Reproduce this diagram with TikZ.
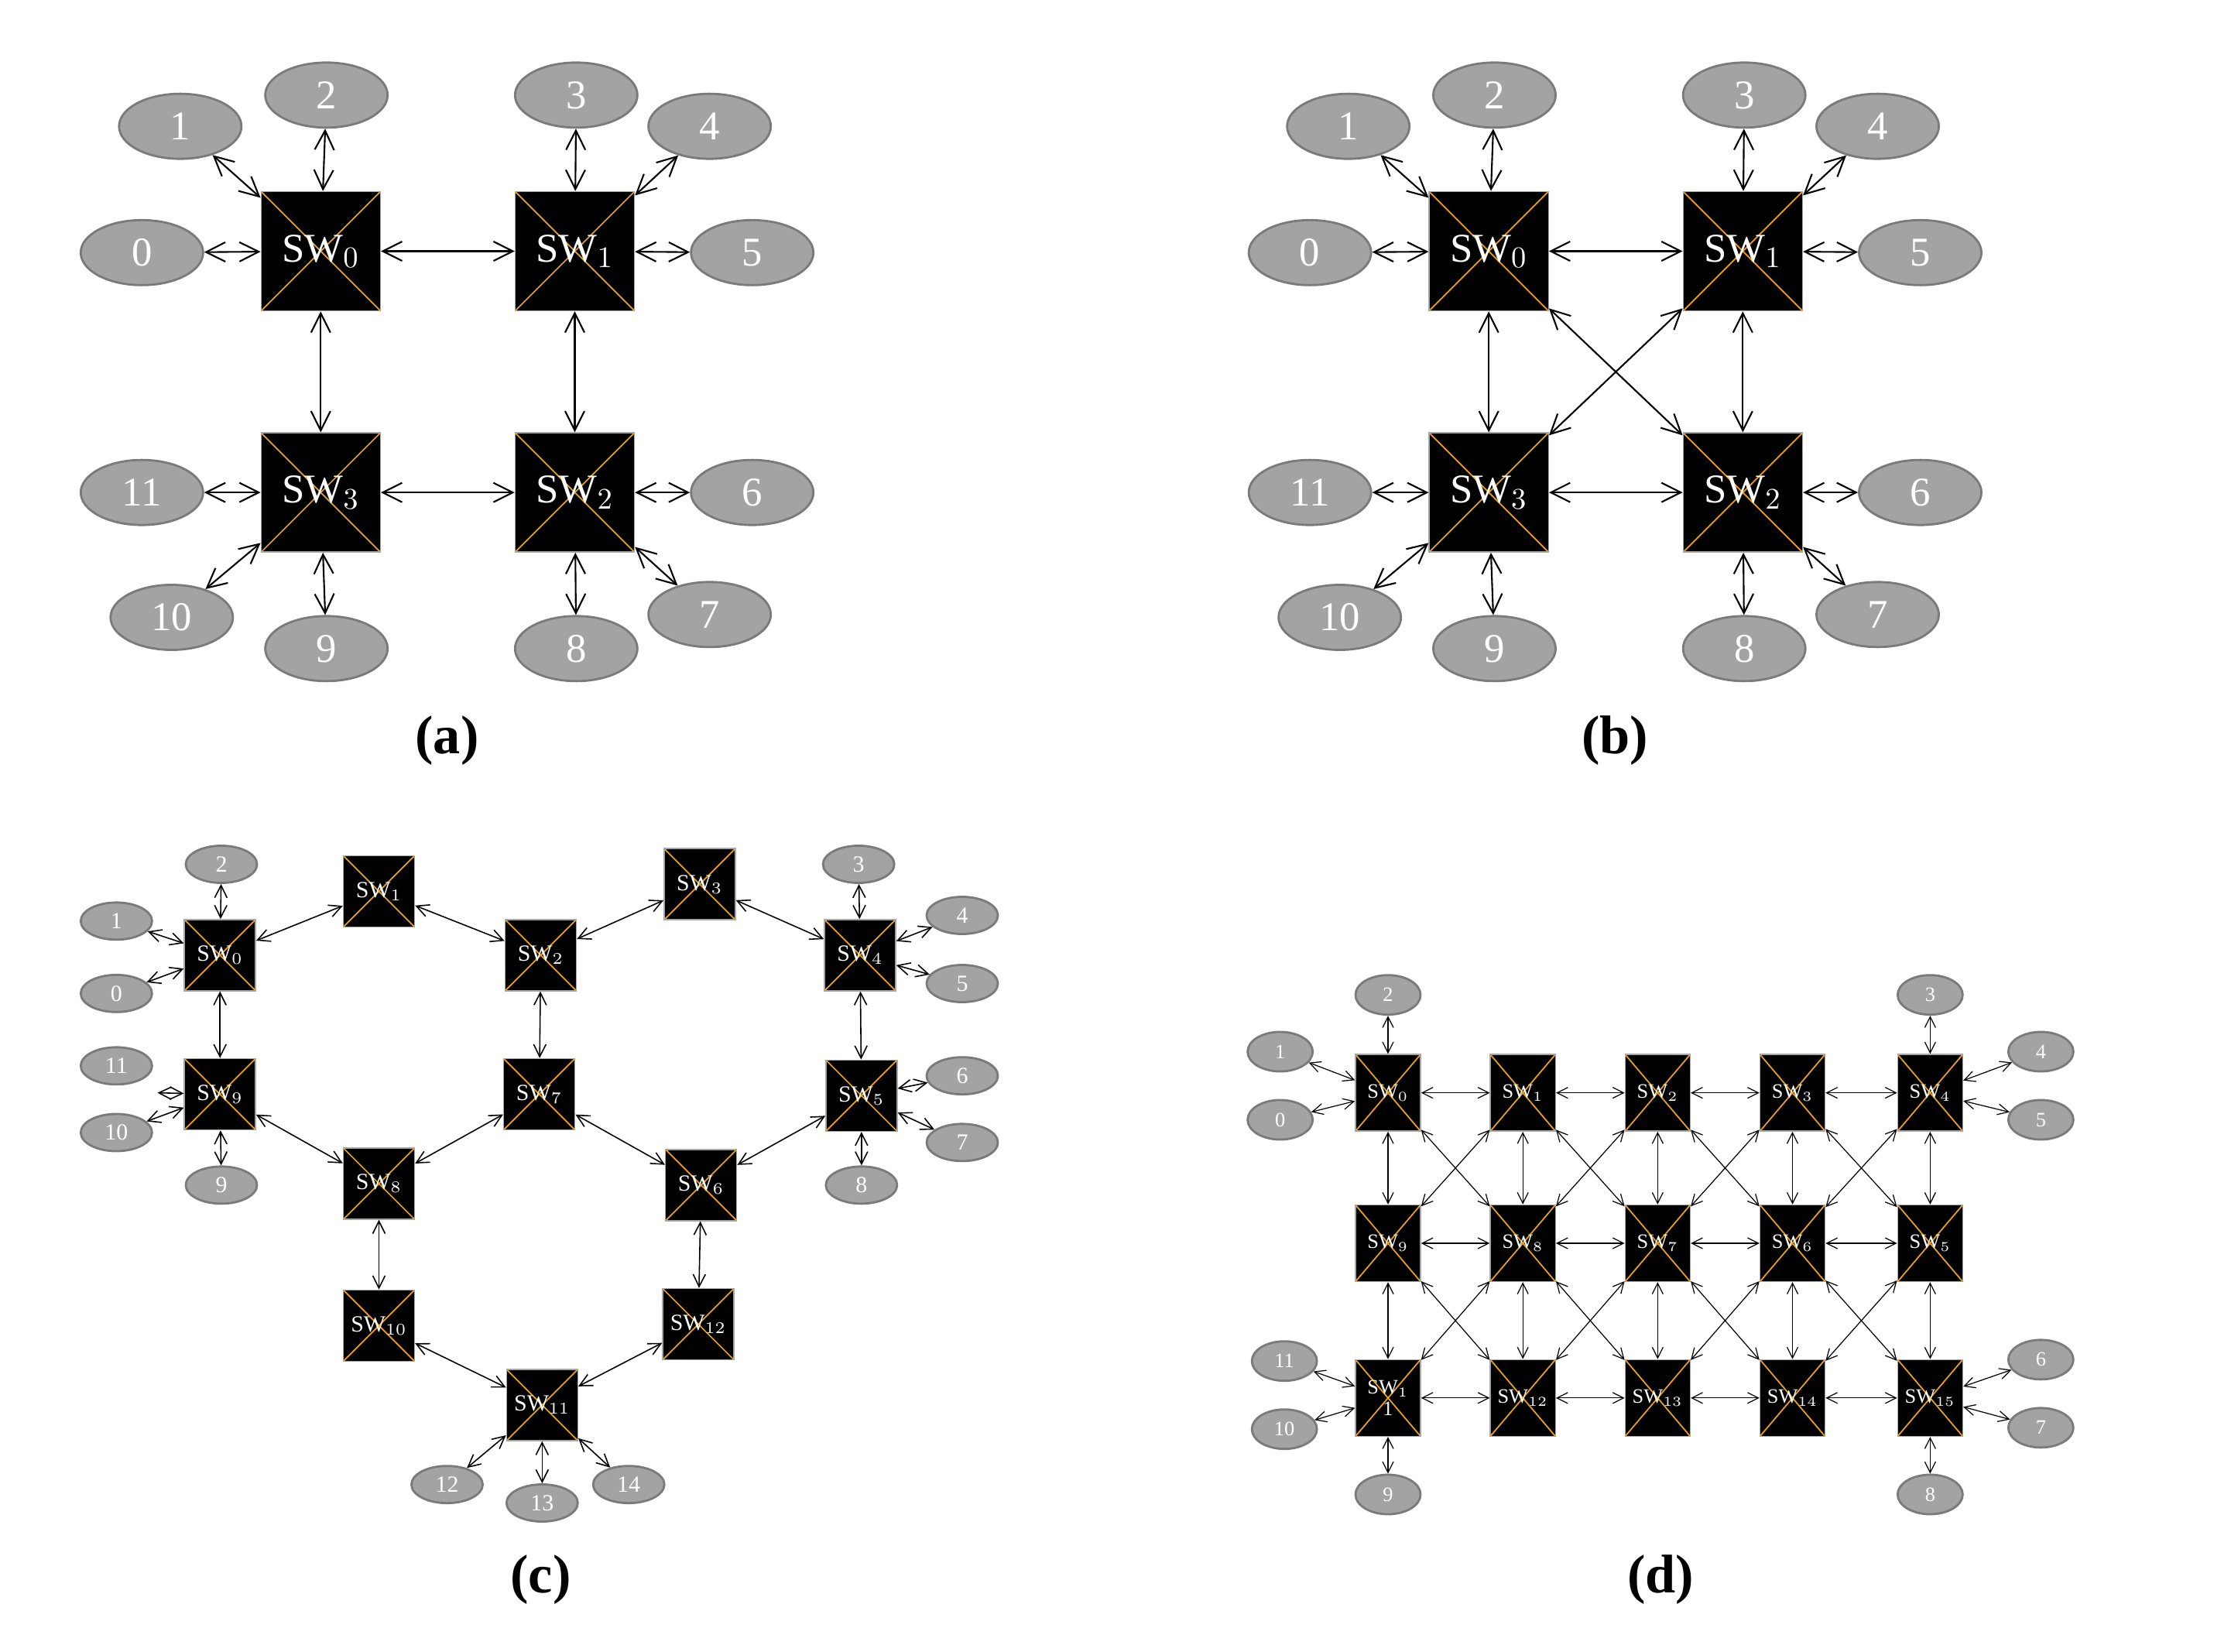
\documentclass[tikz,border=0pt]{standalone}
\usepackage{fontspec}
\setmainfont{Liberation Serif}
\usetikzlibrary{arrows.meta,shapes.geometric}
\definecolor{elf}{HTML}{A3A3A3}
\definecolor{eld}{HTML}{7A7A7A}
\definecolor{xo}{HTML}{E8A317}
\tikzset{
 sqb/.style={rectangle,fill=black,draw=gray!70,inner sep=0pt,text=white,
   path picture={\draw[xo,line width=0.5pt] (path picture bounding box.north west)--(path picture bounding box.south east) (path picture bounding box.south west)--(path picture bounding box.north east);}},
 sqA/.style={sqb,minimum size=1.54cm,font=\fontsize{15}{16}\selectfont},
 sqC/.style={sqb,minimum size=0.92cm,font=\fontsize{8.5}{9.5}\selectfont},
 sqD/.style={sqb,minimum width=0.84cm,minimum height=0.99cm,font=\fontsize{7.5}{8}\selectfont,align=center},
 elb/.style={ellipse,fill=elf,draw=eld,line width=0.8pt,text=white,inner sep=0pt},
 elA/.style={elb,minimum width=1.58cm,minimum height=0.84cm,font=\fontsize{15}{16}\selectfont},
 elC/.style={elb,minimum width=0.92cm,minimum height=0.48cm,font=\fontsize{8.5}{9.5}\selectfont},
 elD/.style={elb,minimum width=0.84cm,minimum height=0.51cm,font=\fontsize{7.5}{8.5}\selectfont},
 lkA/.style={{Straight Barb[length=2.5mm,width=2.5mm]}-{Straight Barb[length=2.5mm,width=2.5mm]},line width=0.6pt},
 lkC/.style={{Straight Barb[length=1.6mm,width=1.6mm]}-{Straight Barb[length=1.6mm,width=1.6mm]},line width=0.45pt},
 lkD/.style={{Straight Barb[length=1.4mm,width=1.4mm]}-{Straight Barb[length=1.4mm,width=1.4mm]},line width=0.35pt},
 plab/.style={font=\fontsize{20}{22}\selectfont\bfseries}
}
\newcommand\panelAB[2]{%
\begin{scope}[shift={(#2,0)}]
\node[sqA] (#1s0) at (226,177) {SW$_0$};
\node[sqA] (#1s1) at (405,177) {SW$_1$};
\node[sqA] (#1s2) at (405,347) {SW$_2$};
\node[sqA] (#1s3) at (226,347) {SW$_3$};
\node[elA] (#1e0) at (100,178) {0};
\node[elA] (#1e1) at (127,89) {1};
\node[elA] (#1e2) at (230,67) {2};
\node[elA] (#1e3) at (406,67) {3};
\node[elA] (#1e4) at (500,89) {4};
\node[elA] (#1e5) at (530,178) {5};
\node[elA] (#1e6) at (530,347) {6};
\node[elA] (#1e7) at (500,433) {7};
\node[elA] (#1e8) at (406,457) {8};
\node[elA] (#1e9) at (230,457) {9};
\node[elA] (#1e10) at (121,435) {10};
\node[elA] (#1e11) at (100,347) {11};
\foreach \a/\b in {e0/s0,e1/s0,e2/s0,e3/s1,e4/s1,e5/s1,e6/s2,e7/s2,e8/s2,e9/s3,e10/s3,e11/s3,s0/s1,s1/s2,s3/s2,s0/s3}
  \draw[lkA] (#1\a)--(#1\b);
\end{scope}}
\begin{document}
\begin{tikzpicture}[x=0.01833cm,y=-0.01833cm]
\useasboundingbox (0,0) rectangle (1560,1164);
\panelAB{a}{0}
\panelAB{b}{823}
\draw[lkA] (bs0)--(bs2);
\draw[lkA] (bs1)--(bs3);
\node[plab] (ca) at (315,522) {(a)};
\node[plab] (cb) at (1138,522) {(b)};
% panel c
\node[sqC] (c0) at (155,673) {SW$_0$};
\node[sqC] (c1) at (267,628) {SW$_1$};
\node[sqC] (c2) at (381,673) {SW$_2$};
\node[sqC] (c3) at (493,623) {SW$_3$};
\node[sqC] (c4) at (606,673) {SW$_4$};
\node[sqC] (c9) at (155,771) {SW$_9$};
\node[sqC] (c7) at (380,771) {SW$_7$};
\node[sqC] (c5) at (607,772) {SW$_5$};
\node[sqC] (c8) at (267,834) {SW$_8$};
\node[sqC] (c6) at (494,835) {SW$_6$};
\node[sqC] (c10) at (267,934) {SW$_{10}$};
\node[sqC] (c12) at (492,933) {SW$_{12}$};
\node[sqC] (c11) at (382,990) {SW$_{11}$};
\node[elC] (d2) at (156,609) {2};
\node[elC] (d1) at (82,649) {1};
\node[elC] (d0) at (82,700) {0};
\node[elC] (d11) at (82,751) {11};
\node[elC] (d10) at (82,798) {10};
\node[elC] (d9) at (156,835) {9};
\node[elC] (d3) at (605,609) {3};
\node[elC] (d4) at (678,645) {4};
\node[elC] (d5) at (678,693) {5};
\node[elC] (d6) at (678,758) {6};
\node[elC] (d7) at (678,805) {7};
\node[elC] (d8) at (607,835) {8};
\node[elC] (d12) at (315,1046) {12};
\node[elC] (d13) at (382,1059) {13};
\node[elC] (d14) at (443,1046) {14};
\coordinate (cstub) at (111,770);
\foreach \a/\b in {c0/c1,c1/c2,c2/c3,c3/c4,c0/c9,c2/c7,c4/c5,c9/c8,c8/c7,c7/c6,c6/c5,c8/c10,c6/c12,c10/c11,c12/c11,
  d2/c0,d1/c0,d0/c0,d10/c9,d9/c9,d3/c4,d4/c4,d5/c4,d6/c5,d7/c5,d8/c5,d12/c11,d13/c11,d14/c11,cstub/c9}
  \draw[lkC] (\a)--(\b);
\node[plab] (cc) at (381,1113) {(c)};
% panel d
\foreach \n/\x/\y/\t in {0/978/770/SW$_0$,1/1073/770/SW$_1$,2/1168/770/SW$_2$,3/1263/770/SW$_3$,4/1360/770/SW$_4$,
  9/978/876/SW$_9$,8/1073/876/SW$_8$,7/1168/876/SW$_7$,6/1263/876/SW$_6$,5/1360/876/SW$_5$,
  12/1073/985/SW$_{12}$,13/1168/985/SW$_{13}$,14/1263/985/SW$_{14}$,15/1360/985/SW$_{15}$}
  \node[sqD] (g\n) at (\x,\y) {\t};
\node[sqD] (g11) at (978,985) {SW$_1$\\1};
\foreach \n/\x/\y in {2/978/701,1/902/741,0/902/789,3/1360/701,4/1438/741,5/1438/789,11/905/959,10/905/1007,9/978/1053,6/1438/958,7/1438/1006,8/1360/1053}
  \node[elD] (h\n) at (\x,\y) {\n};
\foreach \a/\b in {g0/g1,g1/g2,g2/g3,g3/g4,g9/g8,g8/g7,g7/g6,g6/g5,g11/g12,g12/g13,g13/g14,g14/g15,
  g0/g9,g1/g8,g2/g7,g3/g6,g4/g5,g9/g11,g8/g12,g7/g13,g6/g14,g5/g15,
  g0/g8,g1/g9,g1/g7,g2/g8,g2/g6,g3/g7,g3/g5,g4/g6,
  g9/g12,g8/g11,g8/g13,g7/g12,g7/g14,g6/g13,g6/g15,g5/g14,
  h2/g0,h1/g0,h0/g0,h3/g4,h4/g4,h5/g4,h11/g11,h10/g11,h9/g11,h6/g15,h7/g15,h8/g15}
  \draw[lkD] (\a)--(\b);
\node[plab] (cd) at (1170,1113) {(d)};
\end{tikzpicture}
\end{document}
